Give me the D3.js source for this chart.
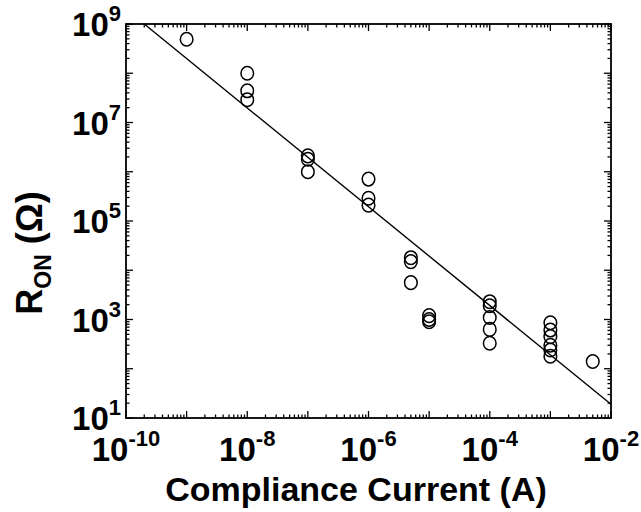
<!DOCTYPE html>
<html><head><meta charset="utf-8">
<script src="https://cdn.jsdelivr.net/npm/d3@7"></script>
<style>body{margin:0;background:#fff}svg{display:block}</style>
</head><body><div id="chart"></div>
<script>
const currents = [1e-9,
  1e-8,1e-8,1e-8,
  1e-7,1e-7,1e-7,
  1e-6,1e-6,1e-6,
  5e-6,5e-6,5e-6,
  1e-5,1e-5,1e-5,
  1e-4,1e-4,1e-4,1e-4,1e-4,
  1e-3,1e-3,1e-3,1e-3,1e-3,1e-3,
  5e-3];
const resistances = [4.9e8,
  1.0e8,4.4e7,2.9e7,
  2.1e6,1.8e6,1.0e6,
  7.1e5,2.9e5,2.1e5,
  1.8e4,1.5e4,5.6e3,
  1.2e3,1.0e3,9.0e2,
  2.3e3,1.9e3,1.1e3,6.3e2,3.3e2,
  8.6e2,6.1e2,4.5e2,3.0e2,2.4e2,1.8e2,
  1.4e2];
const fitCurrents = [2e-10, 1e-2];
const fitResistances = [1e9, 19];
const xTickExps = [-10,-8,-6,-4,-2];
const yTickExps = [1,3,5,7,9];
const xDomain = [1e-10, 1e-2];
const yDomain = [1e1, 1e9];

const W = 641, H = 512;
const m = {left:126, right:641-611, top:24, bottom:512-418};
const svg = d3.select('#chart').append('svg').attr('width',W).attr('height',H);
svg.append('rect').attr('width',W).attr('height',H).attr('fill','#fff');
const x = d3.scaleLog().domain(xDomain).range([m.left, W-m.right]);
const y = d3.scaleLog().domain(yDomain).range([H-m.bottom, m.top]);
const font = '"Liberation Sans", Arial, Helvetica, sans-serif';

// minor+major ticks
function allTicks(dom){
  const out=[]; const a=Math.round(Math.log10(dom[0])), b=Math.round(Math.log10(dom[1]));
  for(let e=a;e<=b;e++){ for(let k=1;k<10;k++){ const v=k*Math.pow(10,e); if(v>dom[1]*1.0001) break; out.push({v, major:k===1}); } }
  return out;
}
const xt = allTicks(xDomain), yt = allTicks(yDomain);
const tg = svg.append('g').attr('stroke','#000').attr('stroke-width',1.3);
const X0=x.range()[0], X1=x.range()[1], Y0=y.range()[0], Y1=y.range()[1];
xt.forEach(t=>{ const L=t.major?7:3.5, px=x(t.v);
  tg.append('line').attr('x1',px).attr('x2',px).attr('y1',Y0).attr('y2',Y0-L);
  tg.append('line').attr('x1',px).attr('x2',px).attr('y1',Y1).attr('y2',Y1+L);
});
yt.forEach(t=>{ const L=t.major?7:3.5, py=y(t.v);
  tg.append('line').attr('x1',X0).attr('x2',X0+L).attr('y1',py).attr('y2',py);
  tg.append('line').attr('x1',X1).attr('x2',X1-L).attr('y1',py).attr('y2',py);
});
svg.append('rect').attr('x',X0).attr('y',Y1).attr('width',X1-X0).attr('height',Y0-Y1)
  .attr('fill','none').attr('stroke','#000').attr('stroke-width',1.8);

// tick labels
const xl = svg.append('g').attr('font-family',font).attr('font-weight','bold').attr('fill','#000');
xTickExps.forEach(e=>{
  const t = xl.append('text').attr('x',x(Math.pow(10,e))).attr('y',461).attr('text-anchor','middle').attr('font-size',33);
  t.append('tspan').text('10');
  t.append('tspan').attr('dy',-15).attr('font-size',22).text('-'+Math.abs(e));
});
yTickExps.forEach(e=>{
  const t = xl.append('text').attr('x',121).attr('y',y(Math.pow(10,e))+12).attr('text-anchor','end').attr('font-size',33);
  t.append('tspan').text('10');
  t.append('tspan').attr('dy',-15).attr('font-size',22).text(String(e));
});

// axis titles
svg.append('text').attr('x',356).attr('y',501).attr('text-anchor','middle')
  .attr('font-family',font).attr('font-weight','bold').attr('font-size',34).text('Compliance Current (A)');
const yl = svg.append('text').attr('transform','translate(42,253) rotate(-90)').attr('text-anchor','middle')
  .attr('font-family',font).attr('font-weight','bold').attr('font-size',36);
yl.append('tspan').text('R');
yl.append('tspan').attr('dy',9).attr('font-size',23).text('ON');
yl.append('tspan').attr('dy',-9).text(' (Ω)');

// fit line
svg.append('path').datum(fitCurrents.map((c,i)=>[c,fitResistances[i]]))
  .attr('d', d3.line().x(d=>x(d[0])).y(d=>y(d[1])))
  .attr('stroke','#000').attr('stroke-width',1.4).attr('fill','none');

// points
svg.append('g').selectAll('ellipse').data(currents.map((c,i)=>[c,resistances[i]])).join('ellipse')
  .attr('cx',d=>x(d[0])).attr('cy',d=>y(d[1])).attr('rx',6.3).attr('ry',6.8)
  .attr('fill','none').attr('stroke','#000').attr('stroke-width',1.5);
</script></body></html>
